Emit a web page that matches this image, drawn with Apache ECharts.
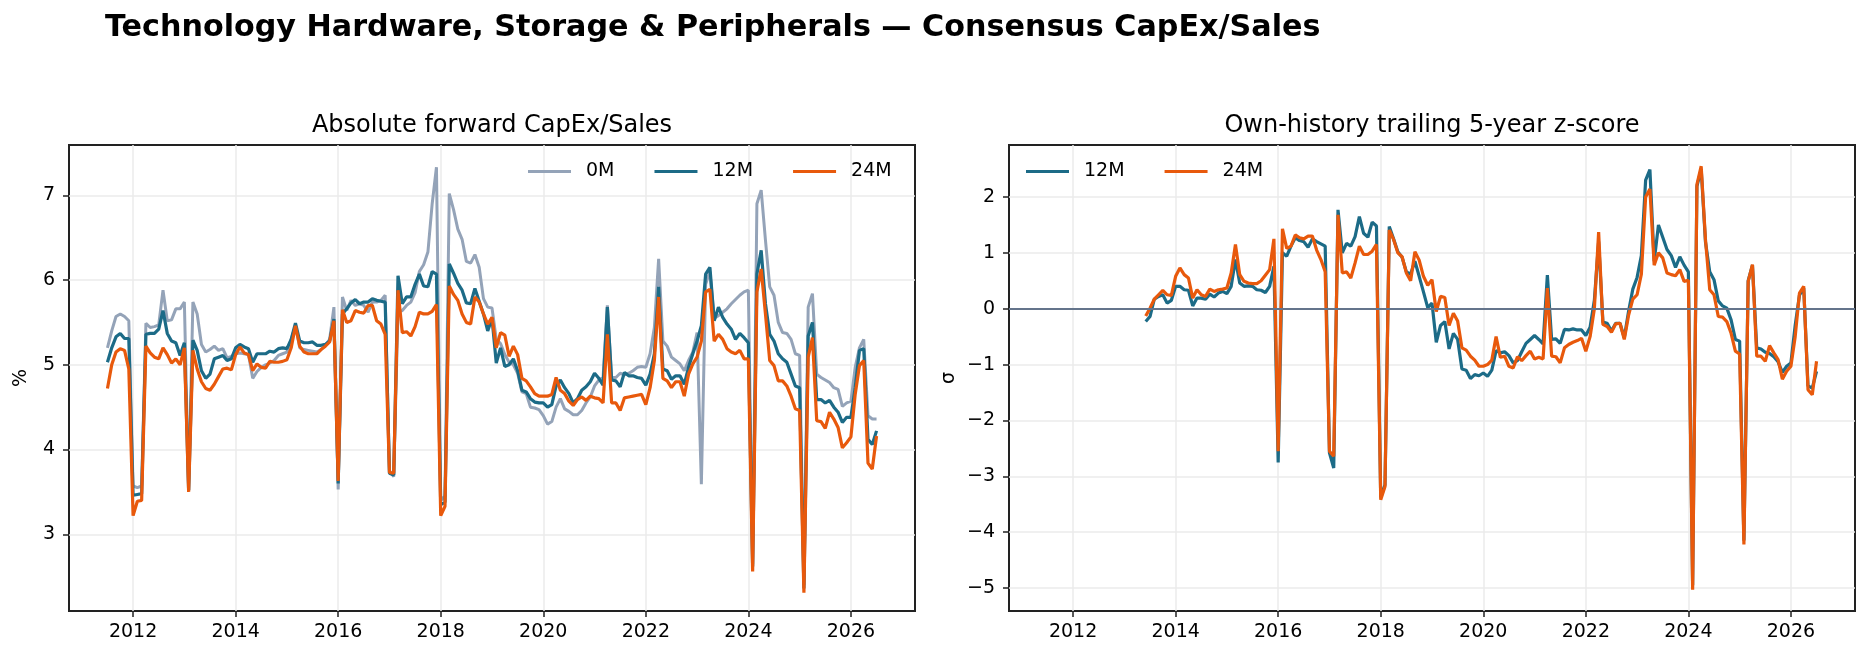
<!DOCTYPE html>
<html>
<head>
<meta charset="utf-8">
<title>Technology Hardware, Storage &amp; Peripherals — Consensus CapEx/Sales</title>
<script src="https://cdn.jsdelivr.net/npm/echarts@6.0.0/dist/echarts.min.js"></script>
<style>
  html, body { margin: 0; padding: 0; background: #fff; }
  #chart { width: 1869px; height: 659px; }
</style>
</head>
<body>
<div id="chart"></div>
<script>
// monthly observations, first one Jul 2011; z-scores start Jun 2013
var startYear = 2011, startMonth = 7;
var zStartYear = 2013, zStartMonth = 6;

var yearTicks = [2012, 2014, 2016, 2018, 2020, 2022, 2024, 2026];
var pctTicks = [3, 4, 5, 6, 7];
var sigmaTicks = [-5, -4, -3, -2, -1, 0, 1, 2];

// forward CapEx/Sales, %  (one row per calendar year)
var capex0M = [
  5.20, 5.40, 5.57, 5.60, 5.57, 5.52,
  3.57, 3.55, 3.57, 5.49, 5.44, 5.45, 5.47, 5.88, 5.52, 5.53, 5.66, 5.66,
  5.74, 3.52, 5.74, 5.60, 5.24, 5.15, 5.18, 5.22, 5.17, 5.19, 5.08, 5.10,
  5.13, 5.14, 5.13, 5.12, 4.84, 4.92, 4.97, 5.00, 5.02, 5.05, 5.11, 5.13,
  5.15, 5.30, 5.46, 5.20, 5.18, 5.17, 5.16, 5.15, 5.18, 5.23, 5.30, 5.68,
  3.53, 5.80, 5.64, 5.76, 5.70, 5.72, 5.70, 5.62, 5.74, 5.74, 5.76, 5.82,
  3.75, 3.68, 5.62, 5.64, 5.70, 5.74, 5.85, 6.10, 6.18, 6.33, 6.90, 7.33,
  3.40, 3.45, 7.02, 6.83, 6.60, 6.48, 6.22, 6.20, 6.30, 6.15, 5.78, 5.68,
  5.67, 5.30, 5.25, 5.12, 5.03, 5.00, 4.90, 4.68, 4.66, 4.50, 4.49, 4.47,
  4.40, 4.30, 4.33, 4.50, 4.60, 4.48, 4.45, 4.41, 4.41, 4.46, 4.55, 4.62,
  4.75, 4.82, 4.85, 5.70, 4.85, 4.85, 4.90, 4.88, 4.90, 4.93, 4.97, 4.98,
  4.97, 5.13, 5.44, 6.25, 5.28, 5.22, 5.09, 5.05, 5.01, 4.93, 5.05, 5.15,
  5.38, 3.59, 5.95, 6.10, 5.55, 5.58, 5.62, 5.66, 5.72, 5.77, 5.82, 5.86,
  5.88, 2.65, 6.90, 7.06, 6.47, 5.92, 5.82, 5.50, 5.38, 5.37, 5.30, 5.13,
  5.11, 2.40, 5.68, 5.84, 4.89, 4.85, 4.82, 4.79, 4.73, 4.71, 4.51, 4.55,
  4.57, 4.97, 5.20, 5.30, 4.40, 4.36, 4.36
];
var capex12M = [
  5.03, 5.20, 5.33, 5.37, 5.31, 5.31,
  3.46, 3.47, 3.48, 5.36, 5.37, 5.37, 5.42, 5.64, 5.37, 5.28, 5.26, 5.11,
  5.26, 3.52, 5.29, 5.17, 4.93, 4.84, 4.89, 5.07, 5.09, 5.11, 5.05, 5.07,
  5.20, 5.24, 5.21, 5.19, 5.03, 5.13, 5.13, 5.13, 5.16, 5.15, 5.19, 5.20,
  5.19, 5.30, 5.49, 5.28, 5.26, 5.26, 5.27, 5.23, 5.23, 5.24, 5.28, 5.54,
  3.60, 5.60, 5.66, 5.73, 5.77, 5.72, 5.74, 5.74, 5.78, 5.76, 5.75, 5.74,
  3.72, 3.70, 6.05, 5.72, 5.80, 5.80, 5.95, 6.07, 5.93, 5.92, 6.10, 6.07,
  3.35, 3.38, 6.19, 6.08, 5.96, 5.88, 5.73, 5.72, 5.90, 5.75, 5.60, 5.40,
  5.55, 5.02, 5.20, 4.98, 5.00, 5.07, 4.93, 4.70, 4.68, 4.60, 4.56, 4.55,
  4.55, 4.50, 4.53, 4.75, 4.82, 4.73, 4.66, 4.55, 4.60, 4.70, 4.74, 4.80,
  4.90, 4.84, 4.76, 5.68, 4.82, 4.81, 4.74, 4.91, 4.87, 4.87, 4.85, 4.84,
  4.76, 4.89, 5.13, 5.92, 4.95, 4.93, 4.83, 4.87, 4.87, 4.77, 4.97, 5.13,
  5.28, 5.46, 6.07, 6.15, 5.52, 5.68, 5.56, 5.48, 5.42, 5.30, 5.37, 5.32,
  5.26, 2.62, 6.07, 6.35, 5.72, 5.36, 5.28, 5.13, 5.07, 5.03, 4.89, 4.75,
  4.73, 2.36, 5.34, 5.50, 4.59, 4.59, 4.55, 4.58, 4.50, 4.44, 4.32, 4.38,
  4.38, 4.73, 5.17, 5.19, 4.12, 4.06, 4.22
];
var capex24M = [
  4.72, 5.00, 5.15, 5.19, 5.17, 4.95,
  3.22, 3.39, 3.40, 5.22, 5.14, 5.09, 5.07, 5.20, 5.12, 5.02, 5.07, 5.00,
  5.20, 3.50, 5.17, 4.95, 4.80, 4.72, 4.70, 4.77, 4.86, 4.95, 4.96, 4.94,
  5.12, 5.21, 5.14, 5.12, 4.93, 5.01, 4.97, 4.96, 5.04, 5.03, 5.03, 5.04,
  5.06, 5.20, 5.46, 5.22, 5.15, 5.13, 5.13, 5.13, 5.18, 5.22, 5.27, 5.52,
  3.63, 5.65, 5.50, 5.52, 5.64, 5.62, 5.61, 5.70, 5.70, 5.52, 5.48, 5.36,
  3.73, 3.72, 5.88, 5.38, 5.39, 5.34, 5.45, 5.62, 5.60, 5.60, 5.63, 5.71,
  3.22, 3.33, 5.93, 5.83, 5.76, 5.60, 5.50, 5.48, 5.80, 5.74, 5.60, 5.48,
  5.56, 5.20, 5.38, 5.35, 5.10, 5.22, 5.12, 4.84, 4.81, 4.74, 4.66, 4.63,
  4.63, 4.63, 4.65, 4.85, 4.70, 4.66, 4.57, 4.52, 4.59, 4.62, 4.58, 4.63,
  4.61, 4.60, 4.55, 5.36, 4.55, 4.55, 4.46, 4.61, 4.62, 4.63, 4.64, 4.65,
  4.53, 4.73, 5.05, 5.80, 4.84, 4.81, 4.73, 4.80, 4.80, 4.63, 4.89, 5.01,
  5.09, 5.28, 5.86, 5.89, 5.28, 5.36, 5.30, 5.19, 5.15, 5.13, 5.17, 5.07,
  5.07, 2.56, 5.86, 6.13, 5.60, 5.05, 4.99, 4.81, 4.81, 4.75, 4.63, 4.48,
  4.46, 2.31, 5.09, 5.32, 4.34, 4.33, 4.25, 4.44, 4.36, 4.26, 4.02, 4.08,
  4.15, 4.65, 4.99, 5.05, 3.84, 3.77, 4.16
];

// own-history trailing 5-year z-score, sigma
var z12M = [
  -0.23, -0.14, 0.17, 0.22, 0.25, 0.10, 0.15,
  0.40, 0.40, 0.34, 0.33, 0.05, 0.19, 0.19, 0.17, 0.26, 0.21, 0.28, 0.31,
  0.27, 0.40, 0.88, 0.46, 0.40, 0.41, 0.40, 0.34, 0.33, 0.29, 0.40, 0.76,
  -2.75, 1.00, 0.94, 1.12, 1.27, 1.22, 1.20, 1.10, 1.25, 1.20, 1.16, 1.12,
  -2.58, -2.85, 1.77, 1.00, 1.17, 1.12, 1.29, 1.65, 1.35, 1.28, 1.55, 1.48,
  -3.38, -3.15, 1.47, 1.25, 1.02, 0.92, 0.66, 0.62, 0.85, 0.58, 0.30, 0.02,
  0.10, -0.60, -0.30, -0.23, -0.72, -0.44, -0.55, -1.08, -1.10, -1.25, -1.18, -1.20,
  -1.15, -1.21, -1.10, -0.75, -0.79, -0.77, -0.84, -0.97, -0.93, -0.77, -0.62, -0.55,
  -0.48, -0.55, -0.63, 0.60, -0.55, -0.54, -0.62, -0.37, -0.38, -0.36, -0.38, -0.38,
  -0.48, -0.33, 0.15, 1.20, -0.24, -0.26, -0.40, -0.26, -0.26, -0.52, -0.05, 0.35,
  0.56, 0.95, 2.30, 2.49, 0.85, 1.50, 1.28, 1.06, 0.95, 0.74, 0.93, 0.78,
  0.66, -4.95, 2.19, 2.50, 1.20, 0.66, 0.52, 0.14, 0.05, 0.01, -0.20, -0.55,
  -0.58, -4.15, 0.50, 0.78, -0.70, -0.72, -0.78, -0.80, -0.86, -0.95, -1.14, -1.03,
  -0.97, -0.30, 0.24, 0.37, -1.38, -1.42, -1.12
];
var z24M = [
  -0.13, 0.01, 0.17, 0.25, 0.33, 0.25, 0.24,
  0.58, 0.73, 0.61, 0.55, 0.19, 0.34, 0.25, 0.22, 0.35, 0.31, 0.34, 0.35,
  0.37, 0.64, 1.15, 0.61, 0.49, 0.46, 0.45, 0.45, 0.50, 0.60, 0.70, 1.25,
  -2.55, 1.43, 1.08, 1.12, 1.32, 1.27, 1.25, 1.30, 1.30, 1.05, 0.88, 0.66,
  -2.55, -2.64, 1.68, 0.64, 0.66, 0.55, 0.82, 1.12, 0.97, 0.97, 1.03, 1.15,
  -3.42, -3.18, 1.41, 1.24, 1.00, 0.93, 0.64, 0.50, 1.02, 0.87, 0.58, 0.42,
  0.52, -0.05, 0.22, 0.20, -0.30, -0.08, -0.22, -0.70, -0.74, -0.85, -0.92, -1.03,
  -1.03, -1.00, -0.92, -0.50, -0.87, -0.85, -1.03, -1.06, -0.86, -0.93, -0.84, -0.76,
  -0.90, -0.87, -0.90, 0.37, -0.85, -0.86, -0.97, -0.70, -0.64, -0.60, -0.57, -0.53,
  -0.76, -0.50, 0.00, 1.37, -0.28, -0.32, -0.42, -0.27, -0.26, -0.55, -0.12, 0.17,
  0.25, 0.62, 2.00, 2.14, 0.78, 1.00, 0.91, 0.64, 0.61, 0.59, 0.70, 0.49,
  0.51, -5.03, 2.22, 2.55, 1.24, 0.34, 0.25, -0.14, -0.15, -0.23, -0.44, -0.76,
  -0.81, -4.22, 0.49, 0.79, -0.85, -0.85, -0.94, -0.66, -0.79, -0.91, -1.26, -1.12,
  -1.03, -0.50, 0.28, 0.40, -1.45, -1.54, -0.94
];

var C0 = '#94a3b8', C12 = '#1c6b87', C24 = '#e8590c';
var FONT = 'DejaVu Sans';
var INK = '#222222';

// month index -> decimal year, so both panels share one value axis scale
function monthly(y0, m0, values) {
  return values.map(function (v, k) {
    return [y0 + (m0 - 1 + k) / 12, v];
  });
}
function minus(v) { return String(v).replace('-', '\u2212'); }

var dom = document.getElementById('chart');
var myChart = echarts.init(dom, null, { renderer: 'canvas' });

function xAxisFor(gi) {
  return {
    type: 'value', gridIndex: gi, min: 2010.75, max: 2027.25,
    axisLine: { show: false, onZero: false },
    axisTick: { show: true, customValues: yearTicks, length: 6, inside: false,
                lineStyle: { color: INK, width: 1.5 } },
    axisLabel: { customValues: yearTicks, margin: 12, color: '#000',
                 fontFamily: FONT, fontSize: 19,
                 formatter: function (v) { return String(v); } },
    splitLine: { show: true, lineStyle: { color: '#ebebeb', width: 1.5 } }
  };
}
function yAxisFor(gi, lo, hi, ticks, name, gap) {
  return {
    type: 'value', gridIndex: gi, min: lo, max: hi,
    name: name, nameLocation: 'middle', nameGap: gap, nameRotate: 90,
    nameTextStyle: { fontFamily: FONT, fontSize: 19, color: '#000' },
    axisLine: { show: false, onZero: false },
    axisTick: { show: true, customValues: ticks, length: 6, inside: false,
                lineStyle: { color: INK, width: 1.5 } },
    axisLabel: { customValues: ticks, margin: 14, color: '#000',
                 fontFamily: FONT, fontSize: 19, formatter: minus },
    splitLine: { show: true, lineStyle: { color: '#ebebeb', width: 1.5 } }
  };
}
function line(name, color, width, gi, data, extra) {
  var s = {
    name: name, type: 'line', xAxisIndex: gi, yAxisIndex: gi,
    data: data, showSymbol: false, symbol: 'none',
    lineStyle: { color: color, width: width }, itemStyle: { color: color }
  };
  if (extra) { for (var k in extra) s[k] = extra[k]; }
  return s;
}

var option = {
  animation: false,
  backgroundColor: '#ffffff',
  textStyle: { fontFamily: FONT },
  title: [
    { text: 'Technology Hardware, Storage & Peripherals \u2014 Consensus CapEx/Sales',
      left: 100, top: 8,
      textStyle: { fontFamily: FONT, fontSize: 30.2, fontWeight: 'bold', color: '#000' } },
    { text: 'Absolute forward CapEx/Sales', left: 492, top: 114, textAlign: 'center', padding: 0,
      textStyle: { fontFamily: FONT, fontSize: 24, fontWeight: 'normal', color: '#000' } },
    { text: 'Own-history trailing 5-year z-score', left: 1432, top: 114, textAlign: 'center', padding: 0,
      textStyle: { fontFamily: FONT, fontSize: 24, fontWeight: 'normal', color: '#000' } }
  ],
  legend: [
    { data: ['0M', '12M', '24M'], left: 528, top: 162, padding: 0, icon: 'rect',
      itemWidth: 43, itemHeight: 3, itemGap: 40, selectedMode: false,
      textStyle: { fontFamily: FONT, fontSize: 19, color: '#000', padding: [0, 0, 0, 10] } },
    { data: ['12M', '24M'], left: 1026, top: 162, padding: 0, icon: 'rect',
      itemWidth: 43, itemHeight: 3, itemGap: 40, selectedMode: false,
      textStyle: { fontFamily: FONT, fontSize: 19, color: '#000', padding: [0, 0, 0, 10] } }
  ],
  grid: [
    { left: 69, top: 145, width: 846, height: 466, show: true,
      borderColor: INK, borderWidth: 2, backgroundColor: 'transparent' },
    { left: 1009, top: 145, width: 846, height: 466, show: true,
      borderColor: INK, borderWidth: 2, backgroundColor: 'transparent' }
  ],
  xAxis: [xAxisFor(0), xAxisFor(1)],
  yAxis: [
    yAxisFor(0, 2.095, 7.593, pctTicks, '%', 38),
    yAxisFor(1, -5.41, 2.93, sigmaTicks, '\u03c3', 50)
  ],
  series: [
    line('0M', C0, 3.0, 0, monthly(startYear, startMonth, capex0M)),
    line('12M', C12, 3.2, 0, monthly(startYear, startMonth, capex12M)),
    line('24M', C24, 3.2, 0, monthly(startYear, startMonth, capex24M)),
    line('12M', C12, 3.2, 1, monthly(zStartYear, zStartMonth, z12M), {
      markLine: {
        silent: true, symbol: ['none', 'none'], label: { show: false },
        lineStyle: { color: '#64748b', width: 1.8, type: 'solid' },
        data: [{ yAxis: 0 }]
      }
    }),
    line('24M', C24, 3.2, 1, monthly(zStartYear, zStartMonth, z24M))
  ]
};

if (option && typeof option === 'object') {
  myChart.setOption(option, true);
}
</script>
</body>
</html>
